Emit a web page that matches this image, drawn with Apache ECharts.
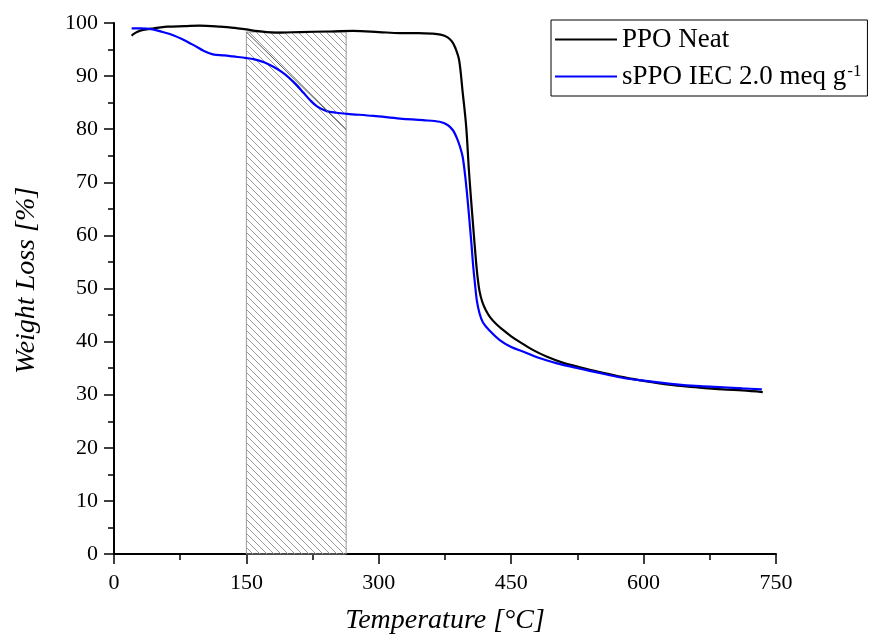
<!DOCTYPE html>
<html>
<head>
<meta charset="utf-8">
<script src="https://cdn.jsdelivr.net/npm/echarts@6/dist/echarts.min.js"></script>
<style>html,body{margin:0;padding:0;background:#fff}#c{width:873px;height:638px}</style>
</head>
<body>
<div id="c"></div>
<script>
// ---- data ----
const neatName = 'PPO Neat';
const sppoName = 'sPPO IEC 2.0 meq g-1';
const neatT = [20, 22, 26, 33, 45, 60, 80, 97, 120, 140, 150, 160, 173, 190, 211, 240, 271, 300, 324, 345, 360, 370, 378, 383, 387, 391, 395, 399, 402, 404, 407, 410, 412, 414, 417, 421, 426, 433, 440, 450, 460, 475, 490, 509, 525, 539, 558, 577, 600, 634, 660, 690, 712, 735];
const neatW = [97.6, 97.9, 98.3, 98.7, 99.0, 99.3, 99.4, 99.5, 99.3, 99.0, 98.8, 98.5, 98.3, 98.2, 98.3, 98.4, 98.5, 98.3, 98.1, 98.1, 98.0, 97.8, 97.3, 96.5, 95.2, 93.0, 87.0, 80.5, 72.5, 67.9, 61.5, 55.4, 52.0, 49.6, 47.6, 46.0, 44.6, 43.3, 42.3, 41.0, 39.9, 38.4, 37.2, 36.0, 35.3, 34.7, 34.0, 33.3, 32.6, 31.8, 31.4, 31.0, 30.8, 30.5];
const sppoT = [20, 30, 44, 55, 67, 78, 86, 95, 101, 112, 125, 135, 150, 158, 170, 180, 190, 199, 207, 215, 222, 230, 241, 252, 264, 294, 324, 350, 369, 378, 384, 388, 392, 395, 398, 401, 403, 405, 407, 409, 411, 414, 418, 426, 437, 450, 464, 480, 502, 520, 539, 558, 577, 600, 634, 664, 690, 712, 734];
const sppoW = [99.0, 99.0, 98.8, 98.3, 97.7, 96.9, 96.2, 95.4, 94.8, 94.1, 93.9, 93.7, 93.4, 93.2, 92.6, 91.8, 90.8, 89.6, 88.3, 86.8, 85.5, 84.3, 83.4, 83.1, 82.9, 82.5, 82.0, 81.7, 81.4, 80.8, 79.8, 78.5, 76.7, 74.8, 71.0, 66.0, 62.2, 58.3, 54.1, 50.8, 47.8, 45.4, 43.6, 42.0, 40.3, 39.0, 38.1, 37.0, 35.9, 35.2, 34.5, 33.8, 33.15, 32.65, 32.0, 31.6, 31.4, 31.2, 31.0];
const hatchX = [150, 263];
const hatchY = [0, 98.3];
const diagFrom = [150, 98.3];
const diagTo = [263, 79.9];
const xTicks = [0, 750, 150];
const yTicks = [0, 100, 10];

const pair = (xs, ys) => xs.map((x, i) => [x, ys[i]]);

// hatch pattern
const pc = document.createElement('canvas');
pc.width = 7; pc.height = 7;
const g = pc.getContext('2d');
g.strokeStyle = '#9a9a9a';
g.lineWidth = 1;
g.beginPath();
g.moveTo(-1, -1); g.lineTo(8, 8);
g.moveTo(-1, 6); g.lineTo(1, 8);
g.moveTo(6, -1); g.lineTo(8, 1);
g.stroke();

const serif = 'Liberation Serif';
const chart = echarts.init(document.getElementById('c'), null, {renderer: 'canvas'});
chart.setOption({
  animation: false,
  backgroundColor: '#fff',
  grid: {left: 114, right: 97, top: 23, bottom: 84, containLabel: false, outerBoundsMode: 'none'},
  xAxis: {
    type: 'value', min: xTicks[0], max: xTicks[1], interval: xTicks[2],
    name: 'Temperature [°C]', nameLocation: 'middle', nameGap: 53,
    nameTextStyle: {fontFamily: serif, fontStyle: 'italic', fontSize: 28, color: '#000'},
    axisLine: {lineStyle: {color: '#000', width: 2}},
    axisTick: {inside: false, length: 10, lineStyle: {color: '#000', width: 1.5}},
    minorTick: {show: true, splitNumber: 2, length: 6, lineStyle: {color: '#000', width: 1.5}},
    axisLabel: {fontFamily: serif, fontSize: 22, color: '#000', margin: 18},
    splitLine: {show: false}
  },
  yAxis: {
    type: 'value', min: yTicks[0], max: yTicks[1], interval: yTicks[2],
    name: 'Weight Loss [%]', nameLocation: 'middle', nameGap: 73,
    nameTextStyle: {fontFamily: serif, fontStyle: 'italic', fontSize: 28, color: '#000', padding: [0, 0, 0, 16]},
    axisLine: {lineStyle: {color: '#000', width: 2}},
    axisTick: {inside: false, length: 10, lineStyle: {color: '#000', width: 1.5}},
    minorTick: {show: true, splitNumber: 2, length: 6, lineStyle: {color: '#000', width: 1.5}},
    axisLabel: {fontFamily: serif, fontSize: 22, color: '#000', margin: 16},
    splitLine: {show: false}
  },
  legend: {
    orient: 'vertical', left: 551, top: 20,
    data: [neatName, sppoName],
    selectedMode: false,
    borderColor: '#000', borderWidth: 1, borderRadius: 0,
    padding: [6, 6, 6, 4], itemGap: 10,
    itemWidth: 62, itemHeight: 2, icon: 'rect',
    formatter: function (name) {
      if (name === sppoName) return '{n|sPPO IEC 2.0 meq g}{s|-1}';
      return '{n|' + name + '}';
    },
    textStyle: {
      fontFamily: serif, fontSize: 27, color: '#000',
      rich: {
        n: {fontFamily: serif, fontSize: 27, color: '#000'},
        s: {fontFamily: serif, fontSize: 17, color: '#000', verticalAlign: 'top', padding: [0, 0, 0, 1]}
      }
    }
  },
  series: [
    {
      name: 'hatch', type: 'line', data: [], silent: true, z: 1,
      markArea: {
        silent: true,
        itemStyle: {color: {image: pc, repeat: 'repeat'}, borderColor: '#9a9a9a', borderWidth: 1},
        data: [[{coord: [hatchX[0], hatchY[0]]}, {coord: [hatchX[1], hatchY[1]]}]]
      },
      markLine: {
        silent: true, symbol: ['none', 'none'],
        label: {show: false},
        lineStyle: {color: '#555', width: 1, type: 'solid'},
        data: [[{coord: diagFrom}, {coord: diagTo}]]
      }
    },
    {
      name: neatName, type: 'line', data: pair(neatT, neatW), showSymbol: false, z: 3,
      smooth: 0.35,
      lineStyle: {color: '#000', width: 2.2}, itemStyle: {color: '#000'}
    },
    {
      name: sppoName, type: 'line', data: pair(sppoT, sppoW), showSymbol: false, z: 4,
      smooth: 0.35,
      lineStyle: {color: '#0000ff', width: 2.2}, itemStyle: {color: '#0000ff'}
    }
  ]
});
</script>
</body>
</html>
